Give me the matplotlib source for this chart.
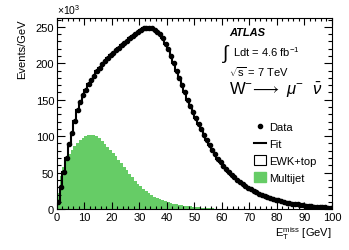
import numpy as np
import matplotlib.pyplot as plt
from matplotlib.lines import Line2D
from matplotlib.patches import Patch
from matplotlib.ticker import MultipleLocator

plt.rcParams['font.family'] = ['Liberation Sans', 'DejaVu Sans']
plt.rcParams['mathtext.fontset'] = 'custom'
plt.rcParams['mathtext.rm'] = 'Liberation Sans'
plt.rcParams['mathtext.it'] = 'Liberation Sans:italic'

# 1 GeV bins, values in units of 10^3 events/GeV
bin_edges = np.arange(0, 101, 1)

data_vals = [10, 30, 51, 70, 89, 105, 121, 136, 147, 156,
             164, 171, 177, 183, 189, 194, 199, 203, 207, 211,
             214, 218, 221, 225, 228, 231, 234, 237, 240, 243,
             246, 248, 249, 249, 248, 246, 243, 240, 234, 227,
             219, 210, 200, 190, 180, 170, 160, 150, 141, 133,
             125, 117, 110, 102, 95, 88, 81, 75, 69, 64,
             59, 55, 51, 47, 44, 40, 37, 34, 32, 29,
             27, 25, 23, 21, 19.5, 18, 16.5, 15, 14, 13,
             12, 11, 10, 9, 8.3, 7.6, 7, 6.3, 5.8, 5.2,
             4.7, 4.3, 3.9, 3.5, 3.2, 2.9, 2.6, 2.3, 2.1, 1.9]
fit_vals = list(data_vals)

multijet_vals = [22, 45, 58, 67, 75, 81, 87, 91, 95, 98,
                 100, 101, 102, 101, 100, 97, 93, 89, 85, 81,
                 77, 73, 68, 63, 58, 53, 48, 44, 39, 35,
                 31, 28, 25, 22, 19.5, 17, 15, 13.5, 12, 10.5,
                 9.5, 8.5, 7.5, 6.7, 6, 5.3, 4.7, 4.1, 3.6, 3.1,
                 2.7, 2.3, 2, 1.7, 1.4, 1.2, 1.0, 0.8, 0.7, 0.6,
                 0.5, 0.4, 0.35, 0.3, 0.25, 0.2, 0.15, 0.1, 0.1, 0.1,
                 0, 0, 0, 0, 0, 0, 0, 0, 0, 0,
                 0, 0, 0, 0, 0, 0, 0, 0, 0, 0,
                 0, 0, 0, 0, 0, 0, 0, 0, 0, 0]

green = '#66cc66'

fig = plt.figure(figsize=(3.49, 2.51), dpi=100)
ax = fig.add_axes([0.163, 0.163, 0.788, 0.761])

centers = 0.5 * (bin_edges[:-1] + bin_edges[1:])
ax.stairs(multijet_vals, bin_edges, fill=True, color=green, linewidth=0)
ax.stairs(fit_vals, bin_edges, color='black', linewidth=1.5)
ax.plot(centers, data_vals, 'o', color='black', markersize=3)

ax.set_xlim(0, 100)
ax.set_ylim(0, 262)

ax.xaxis.set_major_locator(MultipleLocator(10))
ax.xaxis.set_minor_locator(MultipleLocator(2))
ax.yaxis.set_major_locator(MultipleLocator(50))
ax.yaxis.set_minor_locator(MultipleLocator(10))
ax.tick_params(which='both', direction='in', top=True, right=True,
               labelsize=8, width=0.8, pad=2)
ax.tick_params(axis='x', which='major', length=5)
ax.tick_params(axis='x', which='minor', length=2.5)
ax.tick_params(axis='y', which='major', length=6)
ax.tick_params(axis='y', which='minor', length=3)
for s in ax.spines.values():
    s.set_linewidth(0.8)

ax.set_ylabel('Events/GeV', fontsize=8, loc='top')
ax.yaxis.set_label_coords(-0.11, 1.0)
ax.set_xlabel(r'E$_\mathregular{T}^\mathregular{miss}$ [GeV]', fontsize=8,
              loc='right', labelpad=2)
ax.text(0.0, 1.01, r'$\times$10$^\mathregular{3}$', transform=ax.transAxes,
        fontsize=7.5, va='bottom', ha='left')

# labels
ax.text(0.625, 0.927, 'ATLAS', transform=ax.transAxes, fontsize=8,
        fontweight='bold', fontstyle='italic', va='center')
ax.text(0.6, 0.815, r'$\int$', transform=ax.transAxes, fontsize=14, va='center')
ax.text(0.64, 0.826, r'Ldt = 4.6 fb$^\mathregular{-1}$', transform=ax.transAxes,
        fontsize=8, va='center')
ax.text(0.625, 0.723, r'$\sqrt{\mathregular{s}}$ = 7 TeV', transform=ax.transAxes,
        fontsize=8, va='center')
ax.text(0.625, 0.625, r'W$^\mathregular{-}\!\longrightarrow$ $\mu^\mathregular{-}$  $\bar{\nu}$',
        transform=ax.transAxes, fontsize=12, va='center')

handles = [Line2D([], [], marker='o', color='black', linestyle='none', markersize=3),
           Line2D([], [], color='black', linewidth=1.5),
           Patch(facecolor='white', edgecolor='black', linewidth=0.8),
           Patch(facecolor=green, edgecolor=green)]
labels = ['Data', 'Fit', 'EWK+top', 'Multijet']
ax.legend(handles, labels, loc='upper left', bbox_to_anchor=(0.69, 0.5),
          frameon=False, fontsize=8, handlelength=1.0, handleheight=1.0,
          handletextpad=0.3, labelspacing=0.55, borderpad=0.2)

fig.savefig('out.png', dpi=100)
